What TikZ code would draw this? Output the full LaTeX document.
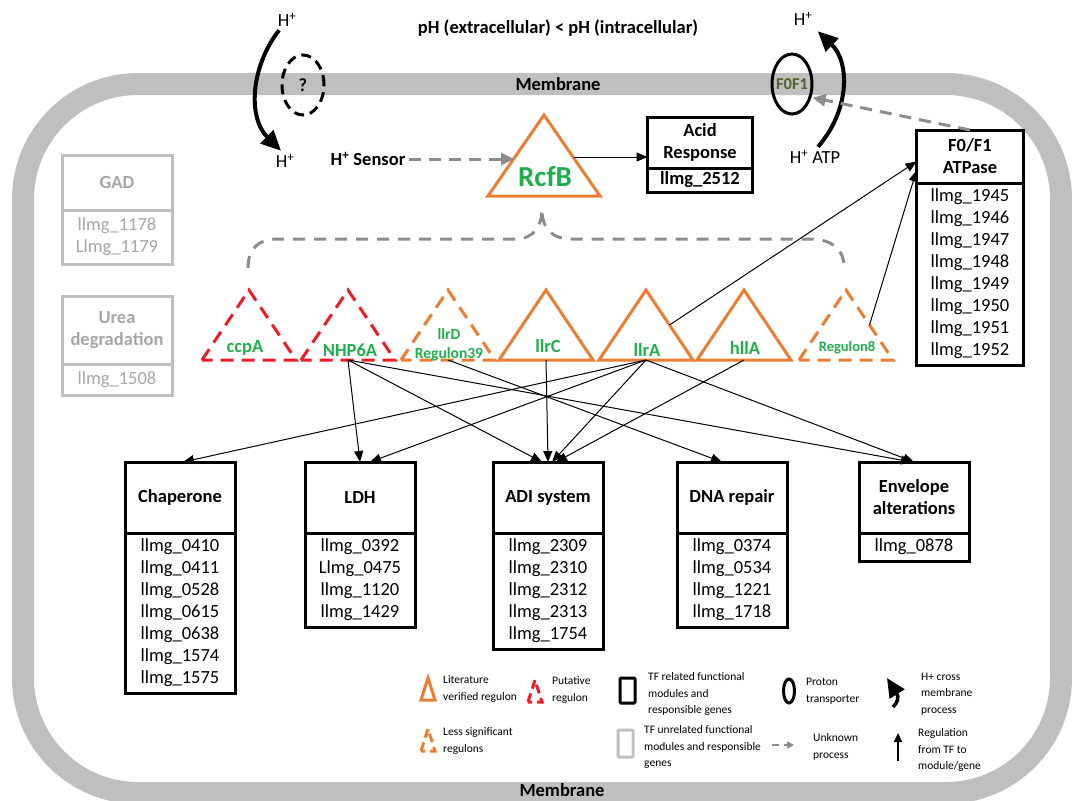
\documentclass[tikz,border=0pt]{standalone}
\usepackage{fontspec}
\setmainfont{Carlito}
\usepackage{tikz}
\usetikzlibrary{arrows.meta,positioning,calc,shapes.geometric}
\definecolor{orangex}{HTML}{ED7D31}
\definecolor{redx}{HTML}{EE1C25}
\definecolor{greenx}{HTML}{1FAF4B}
\definecolor{membr}{HTML}{BFBFBF}
\definecolor{greyx}{HTML}{A6A6A6}
\definecolor{dashx}{HTML}{8C8C8C}
\definecolor{olivex}{HTML}{4F6228}
\newcommand\fsz{\fontsize{18.5}{22}\selectfont}
\newcommand\lsz{\fontsize{11.5}{16.5}\selectfont}
\tikzset{
  ar/.style={-{Triangle[length=11pt,width=9pt]},line width=1pt,black},
  dar/.style={-{Triangle[length=13pt,width=12pt]},line width=3pt,dashx,dash pattern=on 12pt off 8pt},
  bigar/.style={-{Triangle[length=20pt,width=18pt]},line width=4pt,black},
  head/.style={draw,line width=3pt,outer sep=0pt,minimum width=110pt,minimum height=71pt,align=center,font=\fsz\bfseries},
  genes/.style={draw,line width=3pt,outer sep=0pt,minimum width=110pt,align=center,font=\fsz,inner ysep=6pt},
  ghead/.style={head,draw=membr,text=greyx},
  ggenes/.style={genes,draw=membr,text=greyx},
  litreg/.style={draw=orangex,line width=3pt,line join=miter},
  lessreg/.style={draw=orangex,line width=3pt,dash pattern=on 13pt off 8pt},
  putreg/.style={draw=redx,line width=3pt,dash pattern=on 13pt off 8pt},
  tflab/.style={text=greenx,font=\fsz\bfseries,align=center,inner sep=1pt},
  legtxt/.style={anchor=west,align=left,font=\lsz,inner sep=0pt}
}
\begin{document}
\begin{tikzpicture}[x=1pt,y=-1pt]
\clip (0,0) rectangle (1072,801);
% membrane
\draw[membr,line width=22pt,rounded corners=115pt] (23,84) rectangle (1061,793);
\node[font=\fsz\bfseries] (memt) at (558,84) {Membrane};
\node[font=\fsz\bfseries] (memb) at (562,790) {Membrane};
\node[font=\fsz\bfseries] (ttl) at (558,28) {pH (extracellular) < pH (intracellular)};

% proton entry
\node[font=\fsz] (hin) at (287,20) {H\textsuperscript{+}};
\node[font=\fsz] (hout) at (285,161) {H\textsuperscript{+}};
\node[draw,ellipse,line width=3pt,dash pattern=on 10pt off 6pt,minimum width=42pt,minimum height=60pt] (unk) at (303,85) {};
\node[font=\fsz\bfseries] (unkq) at (unk) {?};
\draw[bigar] ([xshift=-8pt]hin.south) .. controls (250,68) and (248,118) .. ([xshift=-4pt]hout.north);

% F0F1 transporter
\node[font=\fsz] (hex) at (803,19) {H\textsuperscript{+}};
\node[font=\fsz] (hatp) at (815,157) {H\textsuperscript{+}\ ATP};
\node[draw,ellipse,line width=3pt,minimum width=40pt,minimum height=60pt] (tr) at (792,84) {};
\node[font=\fontsize{16.5}{20}\selectfont\bfseries,text=olivex] (trlab) at (tr) {F0F1};
\draw[bigar] ([xshift=3pt]hatp.north) .. controls (850,110) and (850,62) .. ([xshift=2pt,yshift=-2pt]hex.south east);

% sensor
\draw[litreg] (488,196) -- (544,115) -- (600,196) -- cycle;
\node[text=greenx,font=\fontsize{29}{34}\selectfont\bfseries] (rcfb) at (545,177) {RcfB};
\coordinate (rcfb-l) at (514,159);
\coordinate (rcfb-r) at (574,157);
\node[font=\fsz\bfseries] (sens) at (368,159) {H\textsuperscript{+} Sensor};
\draw[dar] (sens.east) -- (rcfb-l);

\node[head,minimum width=105pt,minimum height=51pt] (acid) at (700,142.5) {Acid\\Response};
\node[genes,below=0pt of acid,minimum width=105pt,font=\fsz\bfseries,inner ysep=4pt] (acidg) {llmg\_2512};
\draw[ar] (rcfb-r) -- (rcfb-r -| acid.west);

% F0/F1 ATPase
\node[head,minimum width=107pt,minimum height=53pt] (f0) at (970,156.5) {F0/F1\\ATPase};
\node[genes,below=0pt of f0,minimum width=107pt] (f0g) {llmg\_1945\\llmg\_1946\\llmg\_1947\\llmg\_1948\\llmg\_1949\\llmg\_1950\\llmg\_1951\\llmg\_1952};
\draw[dar] (f0.north) -- ([xshift=2pt,yshift=2pt]tr.-40);

% unrelated modules
\node[ghead,minimum height=55pt] (gad) at (117,182.5) {GAD};
\node[ggenes,below=0pt of gad,minimum height=54pt] (gadg) {llmg\_1178\\Llmg\_1179};
\node[ghead,minimum height=68pt] (urea) at (117,330) {Urea\\degradation};
\node[ggenes,below=0pt of urea,minimum height=31pt] (ureag) {llmg\_1508};

% regulons
\foreach \x/\st/\nm in {249/putreg/ccpa,348/putreg/nhp,448/lessreg/rgd,546/litreg/llrc,646/litreg/llra,744/litreg/hlla,846/lessreg/rg8}{
  \draw[\st] (\x-47,360) -- (\x,290) -- (\x+47,360) -- cycle;
  \coordinate (\nm-b) at (\x,360);
  \coordinate (\nm-r) at (\x+23.5,325);
}
\node[tflab] (ccpa) at (245,348) {ccpA};
\node[tflab] (nhp) at (350,350) {NHP6A};
\node[tflab,font=\fontsize{15.5}{19}\selectfont\bfseries] (rgd) at (449,345) {llrD\\Regulon39};
\node[tflab] (llrc) at (548,346) {llrC};
\node[tflab] (llra) at (647,350) {llrA};
\node[tflab] (hlla) at (745,348) {hllA};
\node[tflab,font=\fontsize{14.5}{18}\selectfont\bfseries] (rg8) at (847,348) {Regulon8};

% RcfB to regulons
\draw[dashx,line width=3pt,dash pattern=on 12pt off 9pt] (248,268) .. controls (248,249) and (258,239) .. (278,239) -- (515,239)
  .. controls (534,239) and (542,226) .. (542,209) .. controls (542,228) and (551,239) .. (572,239) -- (810,239)
  .. controls (832,239) and (844,250) .. (844,266);

% functional modules
\node[head] (chap) at (180,497.5) {Chaperone};
\node[genes,below=0pt of chap] (chapg) {llmg\_0410\\llmg\_0411\\llmg\_0528\\llmg\_0615\\llmg\_0638\\llmg\_1574\\llmg\_1575};
\node[head] (ldh) at (360,497.5) {LDH};
\node[genes,below=0pt of ldh] (ldhg) {llmg\_0392\\Llmg\_0475\\llmg\_1120\\llmg\_1429};
\node[head] (adi) at (548,497.5) {ADI system};
\node[genes,below=0pt of adi] (adig) {llmg\_2309\\llmg\_2310\\llmg\_2312\\llmg\_2313\\llmg\_1754};
\node[head] (dna) at (732,497.5) {DNA repair};
\node[genes,below=0pt of dna] (dnag) {llmg\_0374\\llmg\_0534\\llmg\_1221\\llmg\_1718};
\node[head] (env) at (914,497.5) {Envelope\\alterations};
\node[genes,below=0pt of env] (envg) {llmg\_0878};

% regulation
\draw[ar] (nhp-b) -- (ldh.north);
\draw[ar] (nhp-b) -- ([xshift=-6pt]adi.north);
\draw[ar] (nhp-b) -- ([xshift=-2pt]env.north);
\draw[ar] (rgd-b) -- ([xshift=-10pt]dna.north);
\draw[ar] (llrc-b) -- (adi.north);
\draw[ar] (llra-b) -- ([xshift=3pt]chap.north);
\draw[ar] (llra-b) -- ([xshift=10pt]ldh.north);
\draw[ar] (llra-b) -- ([xshift=4pt]adi.north);
\draw[ar] (llra-b) -- (env.north);
\draw[ar] (llra-r) -- ([yshift=-5pt]f0.west);
\draw[ar] (hlla-b) -- ([xshift=8pt]adi.north);
\draw[ar] (rg8-r) -- ([yshift=-14pt]f0.west);

% legend
\draw[orangex,line width=3pt] (421,700) -- (428,678) -- (435,700) -- cycle;
\node[legtxt] (lg1) at (443,689) {Literature\\verified regulon};
\draw[redx,line width=3pt,dash pattern=on 9pt off 5pt] (528,702) -- (535,680) -- (542,702) -- cycle;
\node[legtxt] (lg2) at (552,690) {Putative\\regulon};
\draw[line width=3pt,rounded corners=1pt] (620,678) rectangle (635,703);
\node[legtxt] (lg3) at (648,694) {TF related functional\\modules and\\responsible genes};
\node[draw,ellipse,line width=3pt,minimum width=11pt,minimum height=24pt,inner sep=0pt] (lg4i) at (789,691) {};
\node[legtxt] (lg4) at (806,691) {Proton\\transporter};
\draw[line width=3.5pt,-{Triangle[length=19pt,width=17pt]}] (893,707) .. controls (898,702) and (899,697) .. (887,678);
\node[legtxt] (lg5) at (921,694) {H+ cross\\membrane\\process};
\draw[orangex,line width=3pt,dash pattern=on 9pt off 5pt] (421,751) -- (428,729) -- (435,751) -- cycle;
\node[legtxt] (lg6) at (443,741) {Less significant\\regulons};
\draw[membr,line width=3pt,rounded corners=1pt] (618,730) rectangle (633,757);
\node[legtxt] (lg7) at (644,747) {TF unrelated functional\\modules and responsible\\genes};
\coordinate (lg8a) at (772,745);
\coordinate (lg8b) at (794,745);
\draw[-{Triangle[length=7pt,width=7pt]},line width=2pt,dashx,dash pattern=on 7pt off 5pt] (lg8a) -- (lg8b);
\node[legtxt] (lg8) at (813,747) {Unknown\\process};
\coordinate (lg9a) at (898,761);
\coordinate (lg9b) at (898,733);
\draw[-{Triangle[length=9pt,width=8pt]},line width=2pt] (lg9a) -- (lg9b);
\node[legtxt] (lg9) at (918,750) {Regulation\\from TF to\\module/gene};
\end{tikzpicture}
\end{document}
